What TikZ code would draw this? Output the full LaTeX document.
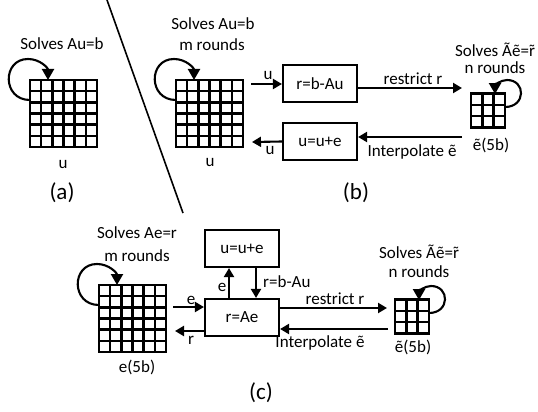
\documentclass[tikz,border=0pt]{standalone}
\usepackage{fontspec}
\setmainfont{Carlito}
\usetikzlibrary{calc,arrows.meta}
\newcommand{\rtil}{\accent"02DC r}
\tikzset{
  gridnode/.style={inner sep=0pt, outer sep=0pt, minimum size=#1},
  gridline/.style={line width=2.6pt, line cap=rect},
  boxstyle/.style={draw, line width=2.1pt, minimum width=74pt, minimum height=37pt, inner sep=0pt, font=\fontsize{17}{20}\selectfont},
  arr/.style={line width=2.1pt, -{Triangle[length=9pt,width=10pt]}},
  loopline/.style={line width=2.1pt, -{Triangle[length=11pt,width=12pt]}},
  lbl/.style={inner sep=0pt, font=\fontsize{17}{20}\selectfont},
  captext/.style={inner sep=0pt, font=\fontsize{23}{26}\selectfont},
}
\newcommand{\drawgrid}[2]{%
  \foreach \k in {0,...,#2}{%
    \draw[gridline] ($(#1.north west)!\k/#2!(#1.north east)$) -- ($(#1.south west)!\k/#2!(#1.south east)$);
    \draw[gridline] ($(#1.north west)!\k/#2!(#1.south west)$) -- ($(#1.north east)!\k/#2!(#1.south east)$);
  }}
\begin{document}
\begin{tikzpicture}[x=1pt,y=-1pt]
\useasboundingbox (0,0) rectangle (538,412);
% divider
\coordinate (d1) at (107,0);
\coordinate (d2) at (183,213);
\draw[line width=1.6pt] (d1) -- (d2);

% ---------- (a)
\node[gridnode=67pt] (Ga) at (63.5,113.5) {};
\drawgrid{Ga}{6}
\draw[loopline] (30,100) .. controls (2,100) and (2,59) .. (28,59) .. controls (40,59) and (48,68) .. (48,80);
\node[lbl] (ta1) at (62,44) {Solves Au=b};
\node[lbl] (ta2) at (63,165) {u};
\node[captext] (capa) at (62,193) {(a)};

% ---------- (b)
\node[gridnode=67pt] (Gb) at (209.5,113.5) {};
\drawgrid{Gb}{6}
\draw[loopline] (176,100) .. controls (148,100) and (148,59) .. (174,59) .. controls (186,59) and (194,68) .. (194,80);
\node[lbl] (tb1) at (213,24) {Solves Au=b};
\node[lbl] (tb2) at (212,45) {m rounds};
\node[lbl] (tb3) at (210,163) {u};

\node[boxstyle] (B1) at (320,83.5) {r=b-Au};
\node[boxstyle] (B2) at (320,141.5) {u=u+e};

\node[gridnode=34pt] (Sb) at (488,110.5) {};
\drawgrid{Sb}{3}
\draw[loopline] (505,107) .. controls (526,107) and (526,80) .. (507,80) .. controls (500,80) and (495,86) .. (495,94);
\node[lbl] (tb4) at (495,50) {Solves Ãẽ=\rtil};
\node[lbl] (tb5) at (495,68) {n rounds};
\node[lbl] (tb6) at (491,145) {ẽ(5b)};

\coordinate (pb1) at (251,84);
\coordinate (pb2) at (462,88);
\coordinate (pb3) at (462,137);
\coordinate (pb4) at (252,142);
\draw[arr] (pb1) -- (pb1 -| B1.west);
\draw[arr] (pb2 -| B1.east) -- (pb2);
\draw[arr] (pb3) -- (pb3 -| B2.east);
\draw[arr] (B2.west) -- (pb4);
\node[lbl] (lb1) at (268,76) {u};
\node[lbl] (lb2) at (413,79) {restrict r};
\node[lbl] (lb3) at (412,152) {Interpolate ẽ};
\node[lbl] (lb4) at (270,151) {u};
\node[captext] (capb) at (356,193) {(b)};

% ---------- (c)
\node[gridnode=67pt] (Gc) at (132.5,318.5) {};
\drawgrid{Gc}{6}
\draw[loopline] (99,305) .. controls (71,305) and (71,264) .. (97,264) .. controls (109,264) and (117,273) .. (117,285);
\node[lbl] (tc1) at (137,233) {Solves Ae=r};
\node[lbl] (tc2) at (137,256) {m rounds};
\node[lbl] (tc3) at (137,367) {e(5b)};

\node[boxstyle] (C1) at (242,317.5) {r=Ae};
\node[boxstyle] (C2) at (242,248.5) {u=u+e};

\node[gridnode=34pt] (Sc) at (412,316.5) {};
\drawgrid{Sc}{3}
\draw[loopline] (429,313) .. controls (450,313) and (450,286) .. (431,286) .. controls (424,286) and (419,292) .. (419,300);
\node[lbl] (tc4) at (419,252) {Solves Ãẽ=\rtil};
\node[lbl] (tc5) at (419,272) {n rounds};
\node[lbl] (tc6) at (413,347) {ẽ(5b)};

\coordinate (pc1) at (173,307);
\coordinate (pc2) at (175,331);
\coordinate (pc3) at (387,308);
\coordinate (pc4) at (388,329);
\coordinate (xe) at (229,0);
\coordinate (xr) at (256,0);
\draw[arr] (pc1) -- (pc1 -| C1.west);
\draw[arr] (pc2 -| C1.west) -- (pc2);
\draw[arr] (pc3 -| C1.east) -- (pc3);
\draw[arr] (pc4) -- (pc4 -| C1.east);
\draw[arr] (xe |- C1.north) -- (xe |- C2.south);
\draw[arr] (xr |- C2.south) -- (xr |- C1.north);
\node[lbl] (lc1) at (222,287) {e};
\node[lbl, anchor=west] (lc2) at (263,282) {r=b-Au};
\node[lbl] (lc3) at (191,300) {e};
\node[lbl] (lc4) at (191,340) {r};
\node[lbl] (lc5) at (335,299) {restrict r};
\node[lbl] (lc6) at (320,343) {Interpolate ẽ};
\node[captext] (capc) at (261,393) {(c)};
\end{tikzpicture}
\end{document}
